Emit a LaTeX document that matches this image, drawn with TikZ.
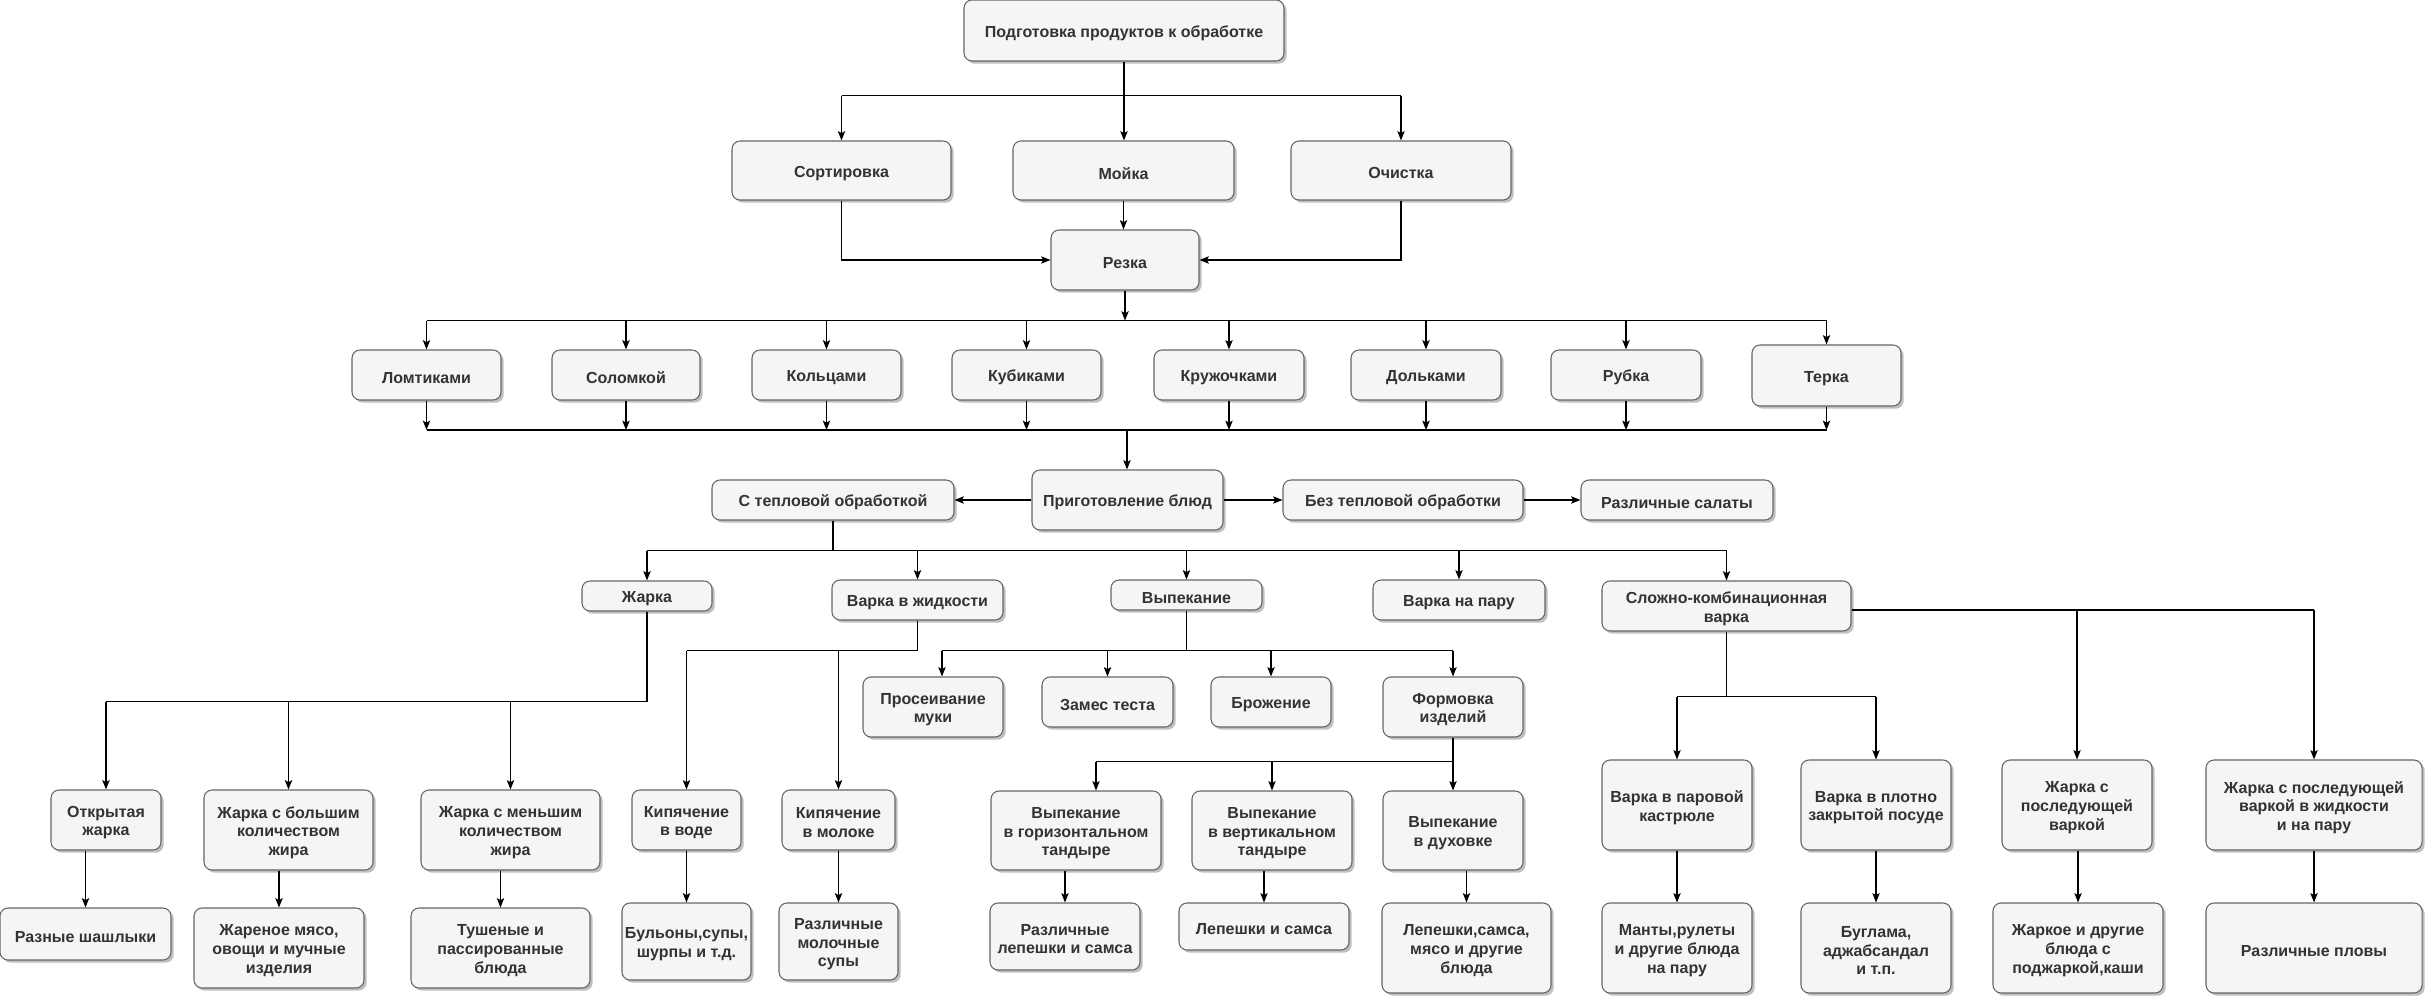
\documentclass[tikz,border=0pt]{standalone}
\usepackage{fontspec}
\setmainfont{Liberation Sans}
\usetikzlibrary{arrows.meta,shadows,calc}
\definecolor{boxfill}{HTML}{F5F5F5}
\definecolor{boxdraw}{HTML}{666666}
\definecolor{boxtext}{HTML}{333333}
\tikzset{
  box/.style={draw=boxdraw, fill=boxfill, line width=0.8pt, rounded corners=6pt, inner sep=0pt,
    drop shadow={shadow xshift=2pt, shadow yshift=-2pt, opacity=0.25, fill=black}},
  txt/.style={text=boxtext, font=\bfseries\fontsize{12}{14}\selectfont, align=center, inner sep=0pt},
  arr/.style={-{Stealth[length=7pt,width=5.5pt,inset=1.5pt]}, line width=0.9pt},
  ln/.style={line width=0.9pt}
}
\newcommand\bx[6]{%
  \node[box, minimum width={(#4-#2)*0.75pt}, minimum height={(#5-#3)*0.75pt}] (#1) at ({(#2+#4)/2},{(#3+#5)/2}) {};
  \node[txt] (#1-t) at ([yshift=-2pt]#1.center) {#6};}
\begin{document}
\begin{tikzpicture}[x=0.75pt,y=-0.75pt]
\useasboundingbox (0,0) rectangle (2426,998);
% nodes
\bx{top}{964}{0}{1284}{61}{Подготовка продуктов к обработке}
\bx{sort}{732}{141}{951}{200}{Сортировка}
\bx{moyka}{1013}{141}{1234}{200}{Мойка}
\bx{ochist}{1291}{141}{1511}{200}{Очистка}
\bx{rezka}{1051}{230}{1199}{290}{Резка}
\bx{c1}{352}{350}{501}{400}{Ломтиками}
\bx{c2}{552}{350}{700}{400}{Соломкой}
\bx{c3}{752}{350}{901}{400}{Кольцами}
\bx{c4}{952}{350}{1101}{400}{Кубиками}
\bx{c5}{1154}{350}{1304}{400}{Кружочками}
\bx{c6}{1351}{350}{1501}{400}{Дольками}
\bx{c7}{1551}{350}{1701}{400}{Рубка}
\bx{c8}{1752}{345}{1901}{406}{Терка}
\bx{prig}{1032}{470}{1223}{530}{Приготовление блюд}
\bx{teplo}{712}{480}{954}{520}{С тепловой обработкой}
\bx{bez}{1283}{480}{1523}{520}{Без тепловой обработки}
\bx{salat}{1581}{480}{1773}{520}{Различные салаты}
\bx{zharka}{582}{581}{712}{611}{Жарка}
\bx{zhidk}{832}{580}{1003}{620}{Варка в жидкости}
\bx{vyp}{1111}{580}{1262}{610}{Выпекание}
\bx{paru}{1373}{580}{1545}{620}{Варка на пару}
\bx{slozh}{1602}{581}{1851}{631}{Сложно-комбинационная\\варка}
\bx{otkr}{51}{790}{161}{850}{Открытая\\жарка}
\bx{bolsh}{204}{790}{373}{870}{Жарка с большим\\количеством\\жира}
\bx{mensh}{421}{790}{600}{870}{Жарка с меньшим\\количеством\\жира}
\bx{kipv}{632}{790}{741}{850}{Кипячение\\в воде}
\bx{kipm}{782}{790}{895}{850}{Кипячение\\в молоке}
\bx{pros}{863}{677}{1003}{737}{Просеивание\\муки}
\bx{zames}{1042}{677}{1173}{727}{Замес теста}
\bx{brozh}{1211}{677}{1331}{727}{Брожение}
\bx{form}{1383}{677}{1523}{737}{Формовка\\изделий}
\bx{gor}{991}{791}{1161}{870}{Выпекание\\в горизонтальном\\тандыре}
\bx{vert}{1192}{791}{1352}{870}{Выпекание\\в вертикальном\\тандыре}
\bx{duh}{1383}{791}{1523}{870}{Выпекание\\в духовке}
\bx{parkast}{1602}{760}{1752}{850}{Варка в паровой\\кастрюле}
\bx{plotno}{1801}{760}{1951}{850}{Варка в плотно\\закрытой посуде}
\bx{zhpv}{2002}{760}{2152}{850}{Жарка с\\последующей\\варкой}
\bx{zhpvz}{2206}{760}{2422}{850}{Жарка с последующей\\варкой в жидкости\\и на пару}
\bx{shash}{0}{908}{171}{960}{Разные шашлыки}
\bx{myaso}{194}{908}{364}{988}{Жареное мясо,\\овощи и мучные\\изделия}
\bx{tush}{411}{908}{590}{988}{Тушеные и\\пассированные\\блюда}
\bx{bulon}{622}{903}{751}{980}{Бульоны,супы,\\шурпы и т.д.}
\bx{molsup}{779}{903}{898}{980}{Различные\\молочные\\супы}
\bx{lep1}{990}{903}{1140}{970}{Различные\\лепешки и самса}
\bx{lep2}{1179}{903}{1349}{950}{Лепешки и самса}
\bx{lep3}{1382}{903}{1551}{993}{Лепешки,самса,\\мясо и другие\\блюда}
\bx{manty}{1602}{903}{1752}{993}{Манты,рулеты\\и другие блюда\\на пару}
\bx{bugl}{1801}{903}{1951}{993}{Буглама,\\аджабсандал\\и т.п.}
\bx{zharkoe}{1993}{903}{2163}{993}{Жаркое и другие\\блюда с\\поджаркой,каши}
\bx{plov}{2206}{903}{2422}{993}{Различные пловы}
% top part
\draw[ln] (top.south) -- ++(0,34) coordinate (b0);
\draw[ln] (b0 -| sort.north) -- (b0 -| ochist.north);
\draw[arr] (b0) -- (b0 |- moyka.north);
\draw[arr] (b0 -| sort.north) -- (sort.north);
\draw[arr] (b0 -| ochist.north) -- (ochist.north);
\draw[arr] (moyka.south) -- (moyka.south |- rezka.north);
\draw[arr] (sort.south) |- (rezka.west);
\draw[arr] (ochist.south) |- (rezka.east);
% cutting bus
\draw[arr] (rezka.south) -- ++(0,30) coordinate (bus1);
\draw[ln] (bus1 -| c1.north) -- (bus1 -| c8.north);
\foreach \c in {c1,c2,c3,c4,c5,c6,c7,c8}{
  \draw[arr] (bus1 -| \c.north) -- (\c.north);
}
\coordinate (bus2) at (1127,430);
\foreach \c in {c1,c2,c3,c4,c5,c6,c7,c8}{
  \draw[arr] (\c.south) -- (\c.south |- bus2);
}
\draw[ln] (c1.south |- bus2) -- (c8.south |- bus2);
\draw[arr] (bus2) -- (bus2 |- prig.north);
% preparation
\draw[arr] (prig.west) -- (teplo.east);
\draw[arr] (prig.east) -- (bez.west);
\draw[arr] (bez.east) -- (salat.west);
\draw[ln] (teplo.south) -- ++(0,30) coordinate (b3);
\draw[ln] (b3 -| zharka.north) -- (b3 -| slozh.north);
\foreach \c in {zharka,zhidk,vyp,paru,slozh}{
  \draw[arr] (b3 -| \c.north) -- (\c.north);
}
% frying
\draw[ln] (zharka.south) -- ++(0,90) coordinate (b4);
\draw[ln] (b4) -- (b4 -| otkr.north);
\foreach \c in {otkr,bolsh,mensh}{
  \draw[arr] (b4 -| \c.north) -- (\c.north);
}
% boiling
\draw[ln] (zhidk.south) -- ++(0,30) coordinate (b5);
\draw[ln] (b5) -- (b5 -| kipv.north);
\foreach \c in {kipv,kipm}{
  \draw[arr] (b5 -| \c.north) -- (\c.north);
}
% baking
\draw[ln] (vyp.south) -- ++(0,40) coordinate (b6);
\coordinate (prosin) at ([xshift=6.75pt]pros.north);
\draw[ln] (b6 -| prosin) -- (b6 -| form.north);
\draw[arr] (b6 -| prosin) -- (prosin);
\foreach \c in {zames,brozh,form}{
  \draw[arr] (b6 -| \c.north) -- (\c.north);
}
\draw[ln] (form.south) -- ++(0,24) coordinate (b7);
\coordinate (gorin) at ([xshift=15pt]gor.north);
\draw[ln] (b7) -- (b7 -| gorin);
\draw[arr] (b7 -| gorin) -- (gorin);
\foreach \c in {vert,duh}{
  \draw[arr] (b7 -| \c.north) -- (\c.north);
}
% complex
\draw[ln] (slozh.south) -- ++(0,65) coordinate (b8);
\draw[ln] (b8 -| parkast.north) -- (b8 -| plotno.north);
\foreach \c in {parkast,plotno}{
  \draw[arr] (b8 -| \c.north) -- (\c.north);
}
\coordinate (se) at ([yshift=-3pt]slozh.east);
\draw[ln] (se) -- (se -| zhpvz.north);
\foreach \c in {zhpv,zhpvz}{
  \draw[arr] (se -| \c.north) -- (\c.north);
}
% results
\draw[arr] (otkr.south -| shash.north) -- (shash.north);
\draw[arr] (bolsh.south -| myaso.north) -- (myaso.north);
\draw[arr] (mensh.south -| tush.north) -- (tush.north);
\draw[arr] (kipv.south -| bulon.north) -- (bulon.north);
\draw[arr] (kipm.south -| molsup.north) -- (molsup.north);
\draw[arr] (gor.south -| lep1.north) -- (lep1.north);
\draw[arr] (vert.south -| lep2.north) -- (lep2.north);
\draw[arr] (duh.south -| lep3.north) -- (lep3.north);
\draw[arr] (parkast.south -| manty.north) -- (manty.north);
\draw[arr] (plotno.south -| bugl.north) -- (bugl.north);
\draw[arr] (zhpv.south -| zharkoe.north) -- (zharkoe.north);
\draw[arr] (zhpvz.south -| plov.north) -- (plov.north);
\end{tikzpicture}
\end{document}
